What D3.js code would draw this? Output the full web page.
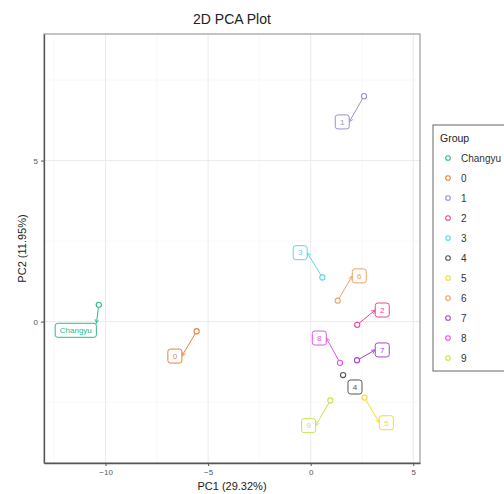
<!DOCTYPE html>
<html>
<head>
<meta charset="utf-8">
<script src="https://cdn.jsdelivr.net/npm/d3@7"></script>
<style>
  body { margin: 0; background: white; }
  svg { font-family: "Liberation Sans", Arial, sans-serif; }
</style>
</head>
<body>
<div id="chart"></div>
<script>
// groups and their scores on the first two components
const groups = ["Changyu", "0", "1", "2", "3", "4", "5", "6", "7", "8", "9"];
const pc1 = [-10.33, -5.56, 2.60, 2.27, 0.57, 1.58, 2.63, 1.32, 2.26, 1.43, 0.96];
const pc2 = [0.52, -0.30, 7.00, -0.10, 1.37, -1.66, -2.36, 0.65, -1.20, -1.28, -2.45];
// where the repelled labels ended up (data units)
const labelPc1 = [-11.45, -6.62, 1.54, 3.49, -0.51, 2.16, 3.69, 2.37, 3.49, 0.42, -0.10];
const labelPc2 = [-0.27, -1.07, 6.20, 0.36, 2.14, -2.03, -3.14, 1.42, -0.88, -0.51, -3.23];
const colors = ["#2fb98c", "#e5823f", "#9590d6", "#e8459a", "#5dd5ef", "#555555",
                "#f2dc2e", "#f0a264", "#a344d4", "#e254e6", "#c5e64e"];

const xTicks = [-10, -5, 0, 5];
const yTicks = [0, 5];
const xMinor = [-12.5, -7.5, -2.5, 2.5];
const yMinor = [-2.5, 2.5, 7.5];

const width = 504, height = 494;
const panel = {left: 44, right: 420, top: 34, bottom: 463};

const x = d3.scaleLinear().domain([-13.0, 5.33]).range([panel.left, panel.right]);
const y = d3.scaleLinear().domain([-4.39, 8.93]).range([panel.bottom, panel.top]);

const svg = d3.select("#chart").append("svg")
    .attr("width", width)
    .attr("height", height);

svg.append("defs").selectAll("marker")
    .data(groups)
    .join("marker")
    .attr("id", (d, i) => "arrow" + i)
    .attr("viewBox", "0 0 10 10")
    .attr("refX", 9).attr("refY", 5)
    .attr("markerWidth", 5).attr("markerHeight", 5)
    .attr("markerUnits", "userSpaceOnUse")
    .attr("orient", "auto")
    .append("path")
    .attr("d", "M1,1 L9,5 L1,9")
    .attr("fill", "none")
    .attr("stroke", (d, i) => colors[i])
    .attr("stroke-width", 1.5);

// grid
const grid = svg.append("g");
grid.selectAll(".minx").data(xMinor).join("line")
    .attr("x1", d => x(d)).attr("x2", d => x(d))
    .attr("y1", panel.top).attr("y2", panel.bottom)
    .attr("stroke", "#f3f3f3").attr("stroke-width", 0.6);
grid.selectAll(".miny").data(yMinor).join("line")
    .attr("y1", d => y(d)).attr("y2", d => y(d))
    .attr("x1", panel.left).attr("x2", panel.right)
    .attr("stroke", "#f3f3f3").attr("stroke-width", 0.6);
grid.selectAll(".majx").data(xTicks).join("line")
    .attr("x1", d => x(d)).attr("x2", d => x(d))
    .attr("y1", panel.top).attr("y2", panel.bottom)
    .attr("stroke", "#ebebeb").attr("stroke-width", 1);
grid.selectAll(".majy").data(yTicks).join("line")
    .attr("y1", d => y(d)).attr("y2", d => y(d))
    .attr("x1", panel.left).attr("x2", panel.right)
    .attr("stroke", "#ebebeb").attr("stroke-width", 1);

// panel border
svg.append("rect")
    .attr("x", panel.left).attr("y", panel.top)
    .attr("width", panel.right - panel.left).attr("height", panel.bottom - panel.top)
    .attr("fill", "none").attr("stroke", "#8a8a8a").attr("stroke-width", 1);

// axes
const xAxis = svg.append("g")
    .attr("transform", `translate(0,${panel.bottom})`)
    .call(d3.axisBottom(x).tickValues(xTicks).tickSizeInner(3).tickSizeOuter(0).tickPadding(3));
const yAxis = svg.append("g")
    .attr("transform", `translate(${panel.left},0)`)
    .call(d3.axisLeft(y).tickValues(yTicks).tickSizeInner(3).tickSizeOuter(0).tickPadding(3));
[xAxis, yAxis].forEach(a => {
  a.select(".domain").attr("stroke", "#555").attr("stroke-width", 1.3);
  a.selectAll(".tick line").attr("stroke", "#555");
  a.selectAll(".tick text").attr("fill", "#555").attr("font-size", 8)
      .attr("font-family", "Liberation Sans, Arial, sans-serif");
});

// segments from points to labels
const boxH = 14;
const fontSize = 8;
const labelW = groups.map(g => Math.max(14, g.length * 4.6 + 9));

// connect to the middle of the side facing the point, or straight up/down
function segmentEnd(i) {
  const px = x(pc1[i]), py = y(pc2[i]);
  const lx = x(labelPc1[i]), ly = y(labelPc2[i]);
  const x0 = lx - labelW[i] / 2, x1 = lx + labelW[i] / 2;
  const y0 = ly - boxH / 2, y1 = ly + boxH / 2;
  let ex, ey;
  if (px < x0 - 3) { ex = x0; ey = ly; }
  else if (px > x1 + 3) { ex = x1; ey = ly; }
  else { ex = Math.max(x0, Math.min(x1, px)); ey = py < y0 ? y0 : y1; }
  const len = Math.hypot(ex - px, ey - py);
  const sx = px + (ex - px) / len * 3, sy = py + (ey - py) / len * 3;
  return {sx, sy, ex, ey, len};
}

const idx = d3.range(groups.length);
svg.append("g").selectAll("line")
    .data(idx.filter(i => segmentEnd(i).len > 15))
    .join("line")
    .attr("x1", i => segmentEnd(i).sx).attr("y1", i => segmentEnd(i).sy)
    .attr("x2", i => segmentEnd(i).ex).attr("y2", i => segmentEnd(i).ey)
    .attr("stroke", i => colors[i])
    .attr("stroke-width", 1)
    .attr("marker-end", i => `url(#arrow${i})`);

// points
svg.append("g").selectAll("circle")
    .data(idx)
    .join("circle")
    .attr("cx", i => x(pc1[i]))
    .attr("cy", i => y(pc2[i]))
    .attr("r", 2.6)
    .attr("fill", "none")
    .attr("stroke", i => colors[i])
    .attr("stroke-width", 1.1);

// labels
const labels = svg.append("g").selectAll("g")
    .data(idx)
    .join("g")
    .attr("transform", i => `translate(${x(labelPc1[i])},${y(labelPc2[i])})`);
labels.append("rect")
    .attr("x", i => -labelW[i] / 2).attr("y", -boxH / 2)
    .attr("width", i => labelW[i]).attr("height", boxH)
    .attr("rx", 2.5)
    .attr("fill", "white")
    .attr("stroke", i => colors[i])
    .attr("stroke-width", 1);
labels.append("text")
    .attr("text-anchor", "middle")
    .attr("dy", "0.35em")
    .attr("font-size", fontSize)
    .attr("fill", i => colors[i])
    .text(i => groups[i]);

// title and axis titles
svg.append("text")
    .attr("x", (panel.left + panel.right) / 2).attr("y", 24)
    .attr("text-anchor", "middle")
    .attr("font-size", 14)
    .attr("fill", "#222")
    .text("2D PCA Plot");
svg.append("text")
    .attr("x", (panel.left + panel.right) / 2).attr("y", 490)
    .attr("text-anchor", "middle")
    .attr("font-size", 11)
    .attr("fill", "#222")
    .text("PC1 (29.32%)");
svg.append("text")
    .attr("transform", `translate(26,${(panel.top + panel.bottom) / 2}) rotate(-90)`)
    .attr("text-anchor", "middle")
    .attr("font-size", 11)
    .attr("fill", "#222")
    .text("PC2 (11.95%)");

// legend
const legend = svg.append("g").attr("transform", "translate(433,125)");
legend.append("rect")
    .attr("width", 90).attr("height", 246)
    .attr("fill", "white")
    .attr("stroke", "#666").attr("stroke-width", 1);
legend.append("text")
    .attr("x", 7).attr("y", 17)
    .attr("font-size", 10.5)
    .attr("fill", "#222")
    .text("Group");
const items = legend.selectAll(".item")
    .data(idx)
    .join("g")
    .attr("transform", i => `translate(0,${33 + i * 20})`);
items.append("circle")
    .attr("cx", 15).attr("r", 2.3)
    .attr("fill", "none")
    .attr("stroke", i => colors[i])
    .attr("stroke-width", 1.1);
items.append("text")
    .attr("x", 28).attr("dy", "0.35em")
    .attr("font-size", 10)
    .attr("fill", "#333")
    .text(i => groups[i]);
</script>
</body>
</html>
